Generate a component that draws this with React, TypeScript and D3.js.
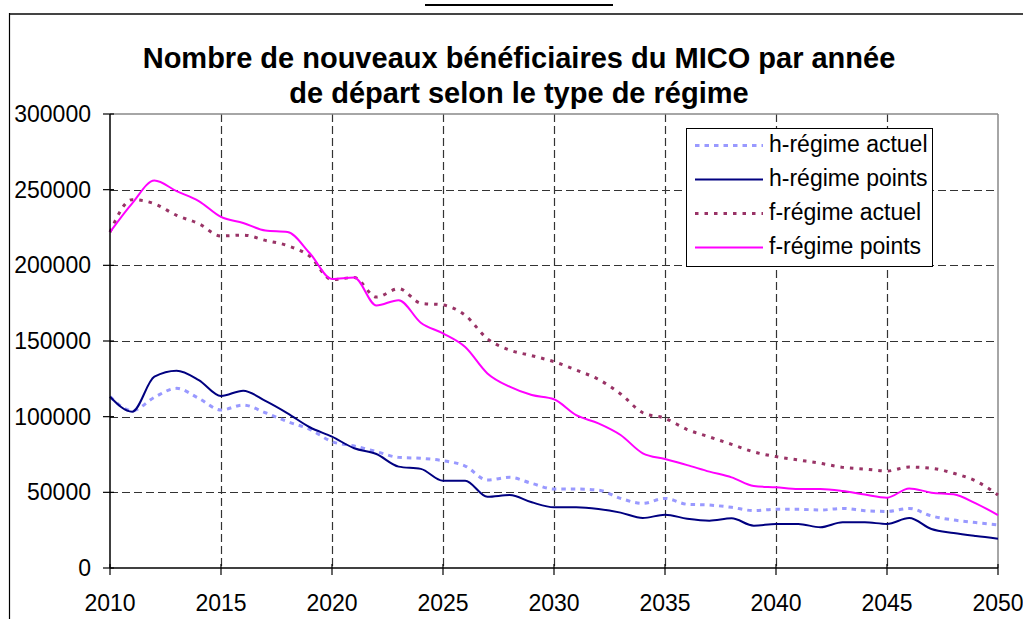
import React from "react";
import * as d3 from "d3";

const years: number[] = d3.range(2010, 2051);

const hActuel: number[] = [
  113200, 104000, 112800, 118700, 112100, 104400, 107700, 102600, 96700, 91600,
  83500, 80600, 76900, 73100, 72500, 70900, 67400, 58100, 59900, 55900,
  52200, 52200, 51500, 46000, 42700, 46000, 42100, 41600, 40100, 37900,
  38800, 38800, 38300, 39400, 37900, 37400, 39400, 34400, 31700, 30000, 28500,
];
const hPoints: number[] = [
  113200, 103300, 126400, 130400, 124200, 113700, 117200, 110400, 102200, 93000,
  86800, 79100, 75300, 67000, 65500, 57700, 57700, 47100, 48200, 43400,
  40100, 40100, 39000, 36600, 33000, 35200, 32600, 31300, 32800, 28000,
  29100, 29100, 26900, 30200, 30200, 29100, 33000, 25800, 23100, 21100, 19400,
];
const fActuel: number[] = [
  222000, 243400, 240700, 233000, 227500, 219400, 220000, 216500, 213000, 206000,
  190500, 192000, 179000, 184600, 175000, 173800, 167000, 151500, 144000, 140300,
  136300, 130800, 124700, 115000, 102600, 98900, 91500, 86600, 81700, 76700,
  73600, 71400, 69200, 66500, 65400, 64100, 66700, 65900, 62600, 57500, 48200,
];
const fPoints: number[] = [
  222000, 241000, 256000, 249000, 242500, 232000, 228000, 223000, 222000, 208000,
  191000, 192000, 173500, 177000, 162100, 155000, 146000, 128600, 119800, 114300,
  111500, 101000, 95600, 87900, 75800, 72000, 68000, 63700, 59900, 54200,
  53300, 52200, 52200, 50900, 48500, 46500, 52600, 49800, 48700, 42700, 35000,
];

const yTicks: number[] = [0, 50000, 100000, 150000, 200000, 250000, 300000];
const xTicks: number[] = [2010, 2015, 2020, 2025, 2030, 2035, 2040, 2045, 2050];

const seriesNames: string[] = [
  "h-régime actuel",
  "h-régime points",
  "f-régime actuel",
  "f-régime points",
];
const seriesData: number[][] = [hActuel, hPoints, fActuel, fPoints];
const seriesColors: string[] = ["#9999FF", "#000080", "#993366", "#FF00FF"];
const seriesDash: (string | undefined)[] = ["4.5 5", undefined, "3.5 6", undefined];
const seriesWidth: number[] = [3, 2, 3, 2];

const titleLines: string[] = [
  "Nombre de nouveaux bénéficiaires du MICO par année",
  "de départ selon le type de régime",
];

export default function App() {
  const W = 1023;
  const H = 619;
  const left = 110;
  const right = 998;
  const top = 114;
  const bottom = 568;

  const x = d3.scaleLinear().domain([2010, 2050]).range([left, right]);
  const y = d3.scaleLinear().domain([0, 300000]).range([bottom, top]);

  const line = d3
    .line<number>()
    .x((_, i) => x(years[i]))
    .y((d) => y(d))
    .curve(d3.curveMonotoneX);

  const font = "'Liberation Sans', Arial, sans-serif";

  return (
    <svg
      width={W}
      height={H}
      style={{ position: "absolute", left: 0, top: 0, background: "#fff" }}
      fontFamily={font}
    >
      <rect x={0} y={0} width={W} height={H} fill="#fff" />
      {/* underline of cut-off heading at top */}
      <line x1={425} x2={613} y1={5} y2={5} stroke="#000" strokeWidth={2} />

      {/* chart frame */}
      <line x1={9.5} x2={W} y1={14} y2={14} stroke="#444" strokeWidth={2} />
      <line x1={9.5} x2={9.5} y1={13} y2={H} stroke="#000" strokeWidth={1.2} />

      {/* title */}
      {titleLines.map((t, i) => (
        <text
          key={i}
          x={519}
          y={68 + i * 35}
          textAnchor="middle"
          fontSize={29}
          fontWeight="bold"
          fill="#000"
        >
          {t}
        </text>
      ))}

      {/* gridlines */}
      {yTicks
        .filter((v) => v > 0 && v < 300000)
        .map((v) => (
          <line
            key={"gy" + v}
            x1={left}
            x2={right}
            y1={Math.round(y(v)) + 0.5}
            y2={Math.round(y(v)) + 0.5}
            stroke="#333"
            strokeWidth={1.2}
            strokeDasharray="8 4"
          />
        ))}
      {xTicks
        .filter((v) => v > 2010 && v < 2050)
        .map((v) => (
          <line
            key={"gx" + v}
            x1={Math.round(x(v)) + 0.5}
            x2={Math.round(x(v)) + 0.5}
            y1={top}
            y2={bottom}
            stroke="#333"
            strokeWidth={1.2}
            strokeDasharray="8 4"
          />
        ))}

      {/* plot border (top/right) */}
      <line x1={left} x2={right} y1={top} y2={top} stroke="#888" strokeWidth={1.5} />
      <line x1={right} x2={right} y1={top} y2={bottom} stroke="#888" strokeWidth={1.5} />

      {/* series */}
      {seriesData.map((d, i) => (
        <path
          key={"s" + i}
          d={line(d) || ""}
          fill="none"
          stroke={seriesColors[i]}
          strokeWidth={seriesWidth[i]}
          strokeDasharray={seriesDash[i]}
          strokeLinejoin="round"
        />
      ))}

      {/* axes */}
      <line x1={left} x2={left} y1={top} y2={bottom} stroke="#000" strokeWidth={1.5} />
      <line x1={left} x2={right} y1={bottom} y2={bottom} stroke="#000" strokeWidth={1.5} />
      {yTicks.map((v) => (
        <g key={"ty" + v}>
          <line x1={left - 7} x2={left + 4} y1={y(v)} y2={y(v)} stroke="#000" strokeWidth={1.2} />
          <text
            x={91}
            y={y(v) + 8}
            textAnchor="end"
            fontSize={23}
            fill="#000"
          >
            {v}
          </text>
        </g>
      ))}
      {xTicks.map((v) => (
        <g key={"tx" + v}>
          <line x1={x(v)} x2={x(v)} y1={bottom - 4} y2={bottom + 7} stroke="#000" strokeWidth={1.2} />
          <text x={x(v)} y={611} textAnchor="middle" fontSize={23} fill="#000">
            {v}
          </text>
        </g>
      ))}

      {/* legend */}
      <rect x={686.5} y={128.5} width={246} height={138} fill="#fff" stroke="#000" strokeWidth={1} />
      {seriesNames.map((n, i) => {
        const yy = 152 + i * 34;
        return (
          <g key={"lg" + i}>
            <line
              x1={695}
              x2={763}
              y1={yy - 6.5}
              y2={yy - 6.5}
              stroke={seriesColors[i]}
              strokeWidth={seriesWidth[i]}
              strokeDasharray={seriesDash[i]}
            />
            <text x={769} y={yy} fontSize={23} fill="#000">
              {n}
            </text>
          </g>
        );
      })}
    </svg>
  );
}
